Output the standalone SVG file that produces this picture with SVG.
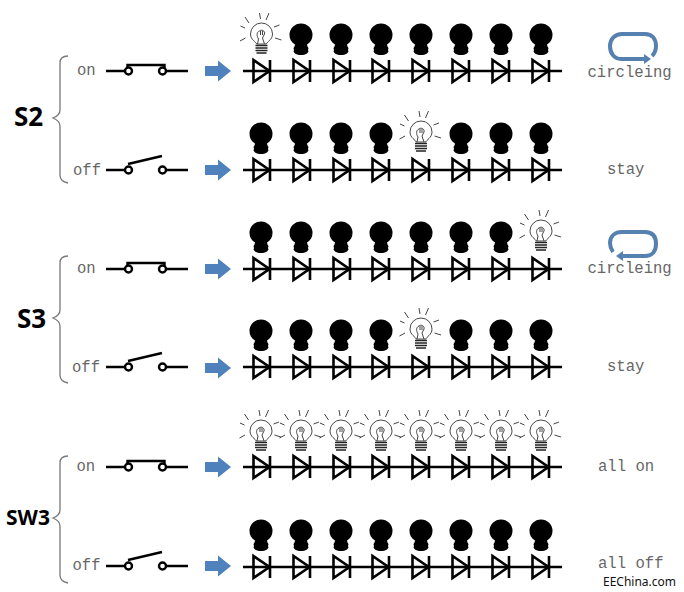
<svg xmlns="http://www.w3.org/2000/svg" width="684" height="592" viewBox="0 0 684 592">
<style>
.wire{stroke:#000;stroke-width:2.4;fill:none}
.led{stroke:#000;stroke-width:2.6;fill:none}
.brace{stroke:#777;stroke-width:1.3;fill:none}
.mono{font-family:"Liberation Mono",monospace;font-size:15.6px;fill:#666}
.big{font-family:"Noto Sans","Open Sans",sans-serif;font-weight:700;fill:#000}
.lit{stroke:#333;stroke-width:.9;fill:#fff}
.ray{stroke:#444;stroke-width:1;fill:none}
.loop{stroke:#5580b0;stroke-width:4;fill:none}
</style>
<defs>
<g id="dark"><path fill="#000" d="M-6 9.500C-9.500 7.500-11.500 4-11.500 0A11.500 11.500 0 0 1 11.500 0C11.500 4 9.500 7.500 6 9.500L6.500 11.500L7.500 13L7 15L7.500 16.500L6 18.500C4 20 2 20 0 20C-2 20-4 20-6 18.500L-7.500 16.500L-7 15L-7.500 13L-6.500 11.500Z"/></g>
<g id="bright">
<path class="lit" d="M-5 9C-5 7-11 5-11 -1A11 11 0 0 1 11 -1C11 5 5 7 5 9Z"/>
<path class="ray" d="M-4 9L-3 4C-5 1-5-3-2-4C0-6 4-4 3-1L1 3L3 9M-1-4L-1 0M1-4L1 0"/>
<path d="M-6 10.500H6M-6 13H6M-6 15.500H6M-5 18H5" stroke="#222" stroke-width="1.500" fill="none"/>
<path class="ray" d="M-2-22L-1-16M7.500-22L4.500-15M-16.500-18L-12.500-12M-21-9L-16.500-7M-21.500 6L-16 3M12.500-8L18-10M13.500 3L20 5"/>
</g>
<path id="di" d="M-8.500 -11V11L7.500 0ZM8 -11V11"/>
<g id="diodes" class="led">
<path d="M243 0H562"/>
<use href="#di" x="262"/><use href="#di" x="302"/><use href="#di" x="342"/><use href="#di" x="381"/><use href="#di" x="421"/><use href="#di" x="461"/><use href="#di" x="501"/><use href="#di" x="541"/>
</g>
<g id="swOn"><path class="wire" d="M106 0H125M166 0H188M127.500 -3V-6H164.500V-3"/><circle cx="128.500" cy="0" r="3.500" fill="#fff" stroke="#000" stroke-width="2.400"/><circle cx="162.500" cy="0" r="3.500" fill="#fff" stroke="#000" stroke-width="2.400"/></g>
<g id="swOff"><path class="wire" d="M106 0H125M166 0H188M128 -6L162 -14"/><circle cx="128.500" cy="0" r="3.500" fill="#fff" stroke="#000" stroke-width="2.400"/><circle cx="162.500" cy="0" r="3.500" fill="#fff" stroke="#000" stroke-width="2.400"/></g>
<path id="arrow" fill="#4f81bd" d="M205 -5H218V-10.500L231 0L218 10.500V5H205Z"/>
<path id="brace" class="brace" d="M68 -62C63 -62 60 -60 60 -55V-8C60 -4 58 -2 53 0C58 2 60 4 60 8V57C60 62 63 64 68 65"/>
</defs>

<g id="connectors">
<use href="#diodes" y="71"/><use href="#diodes" y="170"/><use href="#diodes" y="269"/><use href="#diodes" y="367"/><use href="#diodes" y="467"/><use href="#diodes" y="567"/>
</g>

<g id="s2">
<use href="#brace" y="118"/>
<text class="big" x="14" y="126" font-size="26">S2</text>
<text class="mono" x="77" y="75">on</text>
<text class="mono" x="73" y="175">off</text>
<use href="#swOn" y="71"/><use href="#swOff" y="170"/>
<use href="#arrow" y="71"/><use href="#arrow" y="170"/>
<path class="loop" d="M645 59H621C614 59 610 53 610 46C610 39 615 34 622 34H645C652 34 656 39 656 46C656 50 655 53 652 56"/>
<path fill="#5580b0" d="M644 54V64L651 59Z"/>
<text class="mono" x="587.500" y="77">circleing</text>
<text class="mono" x="607" y="174">stay</text>
</g>
<g id="s2-on-bulbs"><use href="#bright" x="261.500" y="35"/><use href="#dark" x="301" y="35"/><use href="#dark" x="341" y="35"/><use href="#dark" x="381" y="35"/><use href="#dark" x="421" y="35"/><use href="#dark" x="461" y="35"/><use href="#dark" x="501" y="35"/><use href="#dark" x="541" y="35"/></g>
<g id="s2-off-bulbs"><use href="#dark" x="261" y="134"/><use href="#dark" x="301" y="134"/><use href="#dark" x="341" y="134"/><use href="#dark" x="381" y="134"/><use href="#bright" x="421" y="133"/><use href="#dark" x="461" y="134"/><use href="#dark" x="501" y="134"/><use href="#dark" x="541" y="134"/></g>

<g id="s3">
<use href="#brace" y="318"/>
<text class="big" x="17" y="328" font-size="26">S3</text>
<text class="mono" x="77" y="273">on</text>
<text class="mono" x="72" y="372">off</text>
<use href="#swOn" y="269"/><use href="#swOff" y="367"/>
<use href="#arrow" y="269"/><use href="#arrow" y="368"/>
<path class="loop" d="M613 252C611 249 610 246 610 243C610 236 615 232 622 232H645C652 232 656 236 656 244C656 251 652 256 645 256H622"/>
<path fill="#5580b0" d="M623 251V261L616 256Z"/>
<text class="mono" x="587.500" y="272.500">circleing</text>
<text class="mono" x="607" y="371">stay</text>
</g>
<g id="s3-on-bulbs"><use href="#dark" x="261" y="233"/><use href="#dark" x="301" y="233"/><use href="#dark" x="341" y="233"/><use href="#dark" x="381" y="233"/><use href="#dark" x="421" y="233"/><use href="#dark" x="461" y="233"/><use href="#dark" x="501" y="233"/><use href="#bright" x="541" y="232"/></g>
<g id="s3-off-bulbs"><use href="#dark" x="261" y="331"/><use href="#dark" x="301" y="331"/><use href="#dark" x="341" y="331"/><use href="#dark" x="381" y="331"/><use href="#bright" x="421" y="330"/><use href="#dark" x="461" y="331"/><use href="#dark" x="501" y="331"/><use href="#dark" x="541" y="331"/></g>

<g id="sw3">
<use href="#brace" y="518"/>
<text class="big" x="6" y="525" font-size="21">SW3</text>
<text class="mono" x="76.500" y="471">on</text>
<text class="mono" x="72.500" y="570">off</text>
<use href="#swOn" y="467"/><use href="#swOff" y="566"/>
<use href="#arrow" y="467"/><use href="#arrow" y="566"/>
<text class="mono" x="598" y="471">all on</text>
<text class="mono" x="598" y="567.500">all off</text>
</g>
<g id="sw3-on-bulbs"><use href="#bright" x="261" y="432"/><use href="#bright" x="301" y="432"/><use href="#bright" x="341" y="432"/><use href="#bright" x="381" y="432"/><use href="#bright" x="421" y="432"/><use href="#bright" x="461" y="432"/><use href="#bright" x="501" y="432"/><use href="#bright" x="541" y="432"/></g>
<g id="sw3-off-bulbs"><use href="#dark" x="261" y="531"/><use href="#dark" x="301" y="531"/><use href="#dark" x="341" y="531"/><use href="#dark" x="381" y="531"/><use href="#dark" x="421" y="531"/><use href="#dark" x="461" y="531"/><use href="#dark" x="501" y="531"/><use href="#dark" x="541" y="531"/></g>

<text x="603" y="585.500" font-family="Noto Sans,Open Sans,sans-serif" font-size="12" fill="#111">EEChina.com</text>
</svg>
